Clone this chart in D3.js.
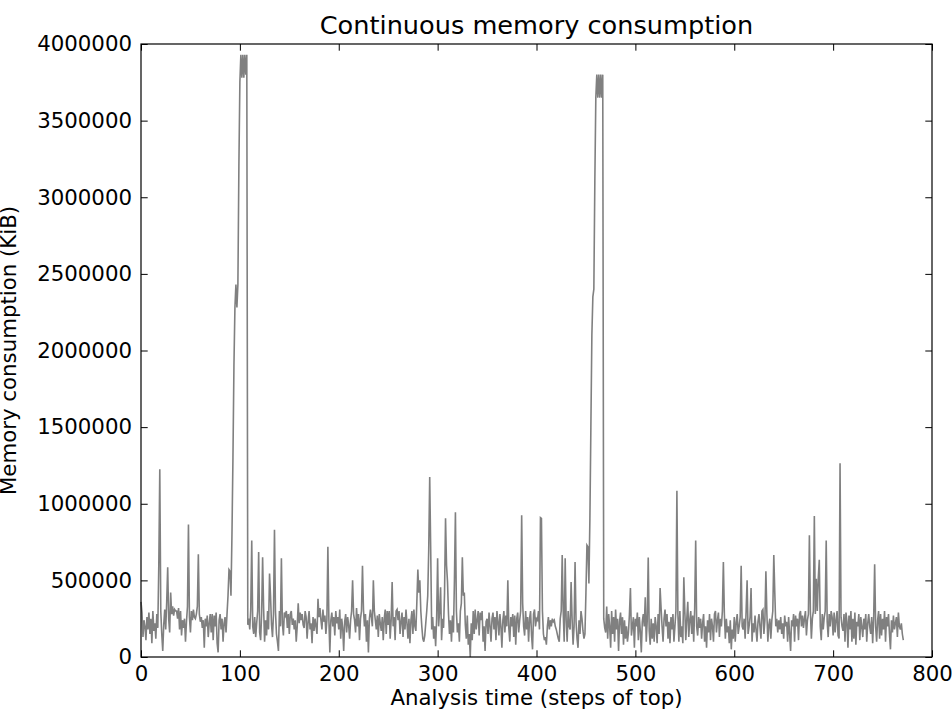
<!DOCTYPE html>
<html><head><meta charset="utf-8">
<script src="https://cdn.jsdelivr.net/npm/d3@7"></script>
<style>
body{margin:0;background:#fff}
svg{display:block}
text{font-family:"DejaVu Sans",sans-serif;fill:#000}
</style>
</head><body>
<svg id="chart" width="952" height="711"></svg>
<script>
const memory = [
360000,290000,130000,240000,200000,110000,260000,180000,290000,150000,
250000,90000,300000,170000,220000,120000,280000,190000,600000,1225000,
300000,150000,40000,210000,310000,180000,360000,585000,250000,160000,
420000,280000,330000,270000,310000,300000,300000,250000,320000,180000,
300000,140000,240000,190000,250000,100000,230000,330000,865000,260000,
160000,300000,240000,310000,260000,250000,280000,330000,670000,280000,
230000,260000,190000,240000,60000,250000,200000,270000,130000,220000,
280000,160000,280000,110000,270000,200000,290000,90000,30000,240000,
280000,180000,250000,100000,220000,260000,160000,280000,400000,570000,
560000,400000,800000,1300000,1900000,2280000,2430000,2280000,2430000,3200000,
3750000,3930000,3780000,3930000,3780000,3930000,3800000,3930000,210000,250000,
180000,310000,760000,200000,150000,260000,130000,220000,300000,685000,
160000,110000,280000,650000,320000,100000,240000,140000,300000,180000,
545000,400000,210000,130000,280000,830000,300000,150000,100000,40000,
300000,200000,645000,220000,140000,290000,270000,300000,190000,280000,
150000,280000,300000,210000,250000,180000,240000,100000,200000,350000,
220000,290000,240000,280000,210000,190000,300000,260000,120000,230000,
300000,180000,220000,90000,260000,170000,250000,200000,150000,380000,
260000,320000,240000,180000,310000,230000,270000,150000,240000,720000,
250000,30000,240000,290000,200000,260000,140000,300000,220000,260000,
180000,310000,120000,250000,190000,40000,230000,280000,160000,260000,
210000,120000,240000,300000,500000,280000,240000,160000,320000,200000,
280000,110000,250000,300000,595000,310000,200000,280000,100000,240000,
30000,250000,310000,260000,200000,500000,300000,240000,180000,270000,
130000,280000,220000,170000,260000,110000,250000,310000,150000,300000,
210000,300000,120000,240000,490000,200000,260000,110000,300000,310000,
240000,300000,150000,230000,290000,130000,260000,180000,310000,220000,
120000,250000,90000,240000,300000,150000,310000,200000,170000,360000,
570000,420000,500000,300000,200000,120000,100000,140000,220000,300000,
400000,700000,1175000,700000,180000,260000,120000,200000,70000,250000,
645000,200000,300000,455000,110000,250000,190000,420000,905000,600000,
490000,280000,150000,240000,100000,270000,160000,500000,945000,300000,
160000,220000,100000,300000,350000,650000,400000,420000,210000,120000,
270000,80000,150000,0,220000,110000,300000,150000,310000,180000,
240000,300000,140000,290000,240000,300000,100000,200000,40000,230000,
250000,150000,290000,200000,100000,250000,290000,180000,260000,110000,
300000,230000,140000,280000,200000,60000,240000,300000,160000,270000,
200000,500000,190000,100000,260000,200000,280000,130000,270000,80000,
250000,290000,160000,240000,300000,925000,350000,200000,140000,300000,
180000,260000,100000,250000,300000,140000,50000,280000,310000,200000,
250000,240000,300000,180000,910000,905000,300000,150000,110000,130000,
80000,200000,260000,180000,240000,200000,250000,230000,240000,200000,
180000,150000,120000,100000,250000,300000,665000,300000,100000,645000,
240000,100000,300000,200000,180000,490000,250000,80000,200000,620000,
230000,120000,60000,240000,150000,300000,250000,170000,120000,150000,
420000,730000,720000,480000,900000,1500000,2100000,2350000,2400000,3100000,
3650000,3800000,3650000,3800000,3650000,3800000,3650000,3800000,250000,190000,
160000,330000,120000,280000,200000,60000,300000,150000,260000,100000,
310000,180000,250000,40000,230000,290000,150000,260000,80000,240000,
120000,200000,100000,160000,280000,450000,140000,200000,260000,60000,
250000,200000,290000,110000,260000,170000,30000,230000,280000,200000,
390000,100000,240000,650000,170000,80000,250000,120000,220000,100000,
260000,200000,90000,280000,150000,450000,320000,200000,100000,250000,
310000,200000,280000,120000,230000,90000,260000,180000,280000,100000,
200000,300000,1085000,280000,100000,300000,130000,200000,90000,520000,
300000,110000,250000,360000,130000,240000,300000,150000,270000,100000,
320000,760000,200000,140000,260000,190000,250000,120000,220000,280000,
100000,200000,60000,240000,160000,280000,110000,250000,200000,100000,
280000,300000,160000,240000,290000,130000,250000,200000,300000,620000,
280000,120000,250000,160000,200000,90000,240000,50000,180000,120000,
260000,100000,230000,280000,150000,200000,260000,595000,200000,180000,
250000,120000,300000,500000,150000,200000,260000,450000,100000,220000,
160000,270000,180000,100000,230000,280000,200000,120000,300000,310000,
150000,240000,560000,280000,100000,210000,250000,120000,240000,300000,
665000,420000,200000,250000,160000,240000,180000,260000,150000,220000,
120000,270000,200000,230000,100000,260000,150000,40000,240000,200000,
280000,100000,270000,200000,250000,110000,280000,300000,200000,270000,
190000,250000,300000,140000,240000,280000,795000,300000,120000,250000,
300000,920000,280000,510000,300000,515000,635000,200000,110000,280000,
180000,260000,300000,760000,230000,130000,280000,200000,300000,260000,
140000,290000,160000,240000,300000,140000,120000,1265000,260000,200000,
170000,280000,100000,290000,230000,60000,270000,180000,300000,100000,
250000,120000,290000,80000,230000,200000,280000,110000,260000,200000,
130000,250000,180000,280000,100000,220000,280000,200000,150000,260000,
90000,250000,605000,200000,100000,240000,300000,120000,280000,140000,
250000,180000,300000,100000,260000,200000,280000,150000,50000,240000,
160000,270000,180000,220000,260000,130000,290000,200000,180000,220000,
150000,110000
];
const xTicks = [0,100,200,300,400,500,600,700,800];
const yTicks = [0,500000,1000000,1500000,2000000,2500000,3000000,3500000,4000000];
const titleText = "Continuous memory consumption";
const xLabelText = "Analysis time (steps of top)";
const yLabelText = "Memory consumption (KiB)";

const M = {l:141, r:932, t:44, b:657};
const TICK = 6.7;
const FS = "21.3px";
const svg = d3.select("#chart");

const x = d3.scaleLinear().domain([0,800]).range([M.l, M.r]);
const y = d3.scaleLinear().domain([0,4000000]).range([M.b, M.t]);

// data line
const line = d3.line().x((d,i)=>x(i)).y(d=>y(d));
svg.append("path").datum(memory)
  .attr("d", line)
  .attr("fill","none")
  .attr("stroke","#808080")
  .attr("stroke-width",1.6)
  .attr("stroke-linejoin","miter");

function styleAxis(g, showLabels){
  g.select(".domain").remove();
  g.selectAll(".tick line").attr("stroke","#000").attr("stroke-width",1);
  g.selectAll(".tick text").attr("font-size",FS).attr("font-family","DejaVu Sans").attr("fill","#000");
  if(!showLabels) g.selectAll(".tick text").remove();
}

const fmt = d3.format("d");
svg.append("g").attr("transform",`translate(0,${M.b})`)
  .call(d3.axisBottom(x).tickValues(xTicks).tickFormat(fmt).tickSizeInner(-TICK).tickSizeOuter(0).tickPadding(9))
  .call(g=>styleAxis(g,true));
svg.append("g").attr("transform",`translate(0,${M.t})`)
  .call(d3.axisTop(x).tickValues(xTicks).tickSizeInner(-TICK).tickSizeOuter(0))
  .call(g=>styleAxis(g,false));
svg.append("g").attr("transform",`translate(${M.l},0)`)
  .call(d3.axisLeft(y).tickValues(yTicks).tickFormat(fmt).tickSizeInner(-TICK).tickSizeOuter(0).tickPadding(9))
  .call(g=>styleAxis(g,true));
svg.append("g").attr("transform",`translate(${M.r},0)`)
  .call(d3.axisRight(y).tickValues(yTicks).tickSizeInner(-TICK).tickSizeOuter(0))
  .call(g=>styleAxis(g,false));

// frame
svg.append("rect").attr("x",M.l).attr("y",M.t)
  .attr("width",M.r-M.l).attr("height",M.b-M.t)
  .attr("fill","none").attr("stroke","#000").attr("stroke-width",1.2);

// title & labels
svg.append("text").attr("x",(M.l+M.r)/2).attr("y",34)
  .attr("text-anchor","middle").attr("font-size","25.6px").text(titleText);
svg.append("text").attr("x",(M.l+M.r)/2).attr("y",705)
  .attr("text-anchor","middle").attr("font-size",FS).text(xLabelText);
svg.append("text").attr("transform",`translate(16,${(M.t+M.b)/2}) rotate(-90)`)
  .attr("text-anchor","middle").attr("font-size",FS).text(yLabelText);
</script>
</body></html>
